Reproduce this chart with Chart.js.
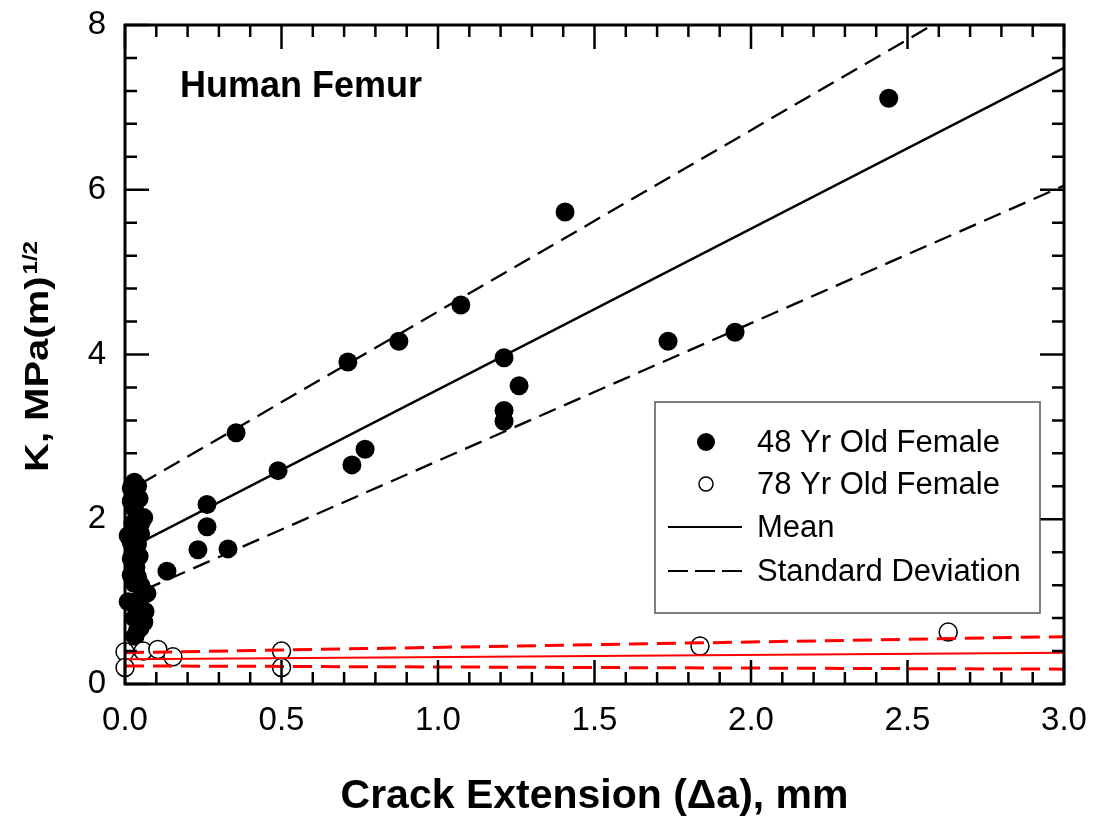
<!DOCTYPE html>
<html><head><meta charset="utf-8">
<script src="https://cdn.jsdelivr.net/npm/chart.js@4/dist/chart.umd.min.js"></script>
<style>html,body{margin:0;padding:0;background:#fff}canvas{display:block}</style>
</head><body>
<canvas id="c" width="1095" height="817"></canvas>
<script>
// ---- data ----
const xTickLabels = ['0.0','0.5','1.0','1.5','2.0','2.5','3.0'];
const yTickLabels = ['0','2','4','6','8'];

const female48X = [0.03,0.02,0.035,0.02,0.03,0.06,0.025,0.05,0.02,0.03,0.02,0.035,0.02,0.03,0.07,0.045,0.064,0.03,0.048,0.032,0.01,0.01,
  0.04,0.045,0.05,0.04,0.045,0.04,0.05,0.04,0.06,0.04,
  0.134,0.233,0.262,0.262,0.329,0.355,0.489,0.712,0.725,0.767,0.875,1.073,1.211,1.211,1.211,1.259,1.406,1.735,1.949,2.44];
const female48Y = [2.45,2.38,2.30,2.22,2.13,2.02,1.95,1.82,1.72,1.62,1.52,1.42,1.32,1.22,1.10,1.02,0.88,0.80,0.68,0.58,1.00,1.80,
  2.40,2.25,1.95,1.70,1.55,1.30,1.20,0.95,0.75,0.65,
  1.37,1.63,1.91,2.18,1.64,3.05,2.59,3.91,2.66,2.85,4.16,4.60,3.96,3.32,3.19,3.62,5.73,4.16,4.27,7.11];

const female78X = [0.0,0.0,0.058,0.105,0.153,0.5,0.5,1.837,2.63];
const female78Y = [0.39,0.20,0.40,0.42,0.33,0.40,0.20,0.46,0.63];

const mean48X = [0.03,3.0];  const mean48Y = [1.68,7.48];
const sdHi48X = [0.05,2.58]; const sdHi48Y = [2.43,8.0];
const sdLo48X = [0.06,3.0];  const sdLo48Y = [1.14,6.05];

const mean78X = [0.0,3.0];   const mean78Y = [0.30,0.38];
const sdHi78X = [0.0,3.0];   const sdHi78Y = [0.38,0.575];
const sdLo78X = [0.0,3.0];   const sdLo78Y = [0.22,0.18];

const legendLabels = ['48 Yr Old Female','78 Yr Old Female','Mean','Standard Deviation'];
const chartTitle = 'Human Femur';
const xTitle = 'Crack Extension (\u0394a), mm';
const yTitleMain = 'K, MPa(m)';
const yTitleSup = '1/2';

const pts = (xs, ys) => xs.map((x, i) => ({x, y: ys[i]}));
const FONT = '"Liberation Sans", Arial, Helvetica, sans-serif';

function lineDs(xs, ys, color, width, dash, order) {
  return {type:'line', data: pts(xs, ys), borderColor: color, borderWidth: width, borderDash: dash,
    pointRadius: 0, fill: false, tension: 0, order: order};
}
function zeroPad(s) { s.paddingTop = 0; s.paddingBottom = 0; s.paddingLeft = 0; s.paddingRight = 0; }

const framePlugin = {
  id: 'frame',
  beforeDraw(chart) {
    const ctx = chart.ctx;
    ctx.save(); ctx.fillStyle = '#fff'; ctx.fillRect(0, 0, chart.width, chart.height); ctx.restore();
  },
  afterDraw(chart) {
    const {ctx, chartArea: a, scales: {x, y}} = chart;
    ctx.save();
    ctx.strokeStyle = '#000';
    ctx.lineWidth = 2.5;
    ctx.lineCap = 'butt';
    const MAJ = 24, MIN = 12;
    for (let i = 0; i <= 30; i++) {
      const px = x.getPixelForValue(i / 10);
      const L = (i % 5 === 0) ? MAJ : MIN;
      ctx.beginPath();
      ctx.moveTo(px, a.bottom); ctx.lineTo(px, a.bottom - L);
      ctx.moveTo(px, a.top); ctx.lineTo(px, a.top + L);
      ctx.stroke();
    }
    for (let i = 0; i <= 20; i++) {
      const py = y.getPixelForValue(i * 0.4);
      const L = (i % 5 === 0) ? MAJ : MIN;
      ctx.beginPath();
      ctx.moveTo(a.left, py); ctx.lineTo(a.left + L, py);
      ctx.moveTo(a.right, py); ctx.lineTo(a.right - L, py);
      ctx.stroke();
    }
    ctx.lineWidth = 3;
    ctx.strokeRect(a.left, a.top, a.right - a.left, a.bottom - a.top);

    ctx.fillStyle = '#000';
    ctx.textAlign = 'left'; ctx.textBaseline = 'alphabetic';
    ctx.font = 'bold 36px ' + FONT;
    ctx.fillText(chartTitle, 180, 97);

    ctx.textAlign = 'center';
    ctx.font = 'bold 41px ' + FONT;
    ctx.fillText(xTitle, (a.left + a.right) / 2, 808);

    ctx.save();
    ctx.translate(48, 472);
    ctx.rotate(-Math.PI / 2);
    ctx.scale(1, 0.84);
    ctx.textAlign = 'left';
    ctx.font = 'bold 40px ' + FONT;
    ctx.fillText(yTitleMain, 0, 0);
    const w = ctx.measureText(yTitleMain).width;
    ctx.font = 'bold 24px ' + FONT;
    ctx.fillText(yTitleSup, w + 2, -13);
    ctx.restore();

    const L0 = 655, T0 = 402, R0 = 1040, B0 = 613;
    ctx.fillStyle = '#fff';
    ctx.fillRect(L0, T0, R0 - L0, B0 - T0);
    ctx.strokeStyle = '#555'; ctx.lineWidth = 1.5;
    ctx.strokeRect(L0, T0, R0 - L0, B0 - T0);
    const rows = [442, 484, 527, 571];
    ctx.fillStyle = '#000';
    ctx.beginPath(); ctx.arc(706, rows[0], 9, 0, Math.PI * 2); ctx.fill();
    ctx.strokeStyle = '#000'; ctx.lineWidth = 1.5;
    ctx.beginPath(); ctx.arc(706, rows[1], 7, 0, Math.PI * 2); ctx.stroke();
    ctx.lineWidth = 2;
    ctx.beginPath(); ctx.moveTo(668, rows[2]); ctx.lineTo(742, rows[2]); ctx.stroke();
    ctx.setLineDash([20, 7]);
    ctx.beginPath(); ctx.moveTo(668, rows[3]); ctx.lineTo(742, rows[3]); ctx.stroke();
    ctx.setLineDash([]);
    ctx.font = '31px ' + FONT;
    ctx.textAlign = 'left'; ctx.textBaseline = 'middle';
    legendLabels.forEach((t, i) => ctx.fillText(t, 757, rows[i] + 1));
    ctx.restore();
  }
};

new Chart(document.getElementById('c'), {
  type: 'scatter',
  data: {
    datasets: [
      lineDs(mean78X, mean78Y, '#ff0000', 2, [], 0),
      lineDs(sdHi78X, sdHi78Y, '#ff0000', 3, [19, 9], 0),
      lineDs(sdLo78X, sdLo78Y, '#ff0000', 3, [19, 9], 0),
      {data: pts(female78X, female78Y), pointRadius: 9, pointBackgroundColor: '#fff',
        pointBorderColor: '#000', pointBorderWidth: 1.5, showLine: false, clip: false, order: 1},
      {data: pts(female48X, female48Y), pointRadius: 9.5, pointBackgroundColor: '#000',
        pointBorderColor: '#000', pointBorderWidth: 0, showLine: false, clip: false, order: 2},
      lineDs(mean48X, mean48Y, '#000', 2.3, [], 3),
      lineDs(sdHi48X, sdHi48Y, '#000', 2.3, [18, 9], 3),
      lineDs(sdLo48X, sdLo48Y, '#000', 2.3, [18, 9], 3)
    ]
  },
  options: {
    responsive: false,
    animation: false,
    events: [],
    layout: {padding: {top: 25, right: 31, left: 0, bottom: 0}},
    plugins: {legend: {display: false}, tooltip: {enabled: false}},
    scales: {
      x: {
        type: 'linear', min: 0, max: 3, position: 'bottom',
        grid: {display: false, drawTicks: false},
        border: {display: false},
        ticks: {stepSize: 0.5, color: '#000', font: {family: FONT, size: 33}, padding: 17,
          maxRotation: 0, autoSkip: false,
          callback: (v) => xTickLabels[Math.round(v / 0.5)]},
        afterFit: (s) => { s.height = 817 - 684; zeroPad(s); }
      },
      y: {
        type: 'linear', min: 0, max: 8,
        grid: {display: false, drawTicks: false},
        border: {display: false},
        ticks: {stepSize: 2, color: '#000', font: {family: FONT, size: 33}, padding: 19,
          callback: (v) => yTickLabels[Math.round(v / 2)]},
        afterFit: (s) => { s.width = 125; zeroPad(s); }
      }
    }
  },
  plugins: [framePlugin]
});
</script>
</body></html>
